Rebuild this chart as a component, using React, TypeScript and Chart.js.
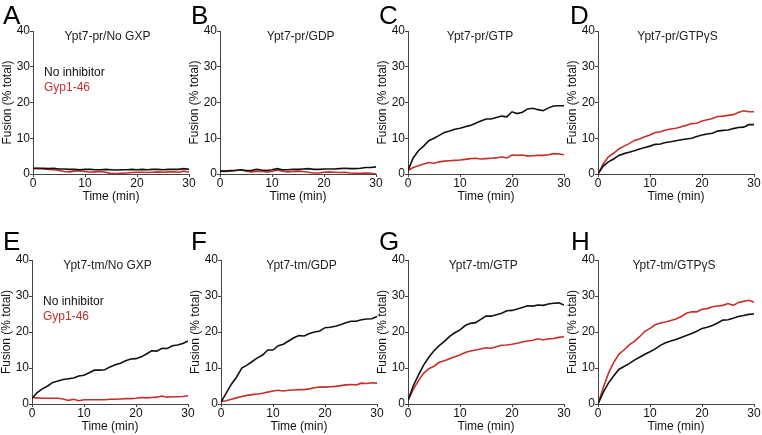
import React, { useEffect, useRef } from "react";
import { Chart, registerables } from "chart.js";

Chart.register(...registerables);

// ---------- data ----------
const time = [0, 1, 2, 3, 4, 5, 6, 7, 8, 9, 10, 11, 12, 13, 14, 15, 16, 17, 18, 19, 20, 21, 22, 23, 24, 25, 26, 27, 28, 29, 30];

const xTicks = [0, 10, 20, 30];
const yTicks = [0, 10, 20, 30, 40];

const seriesNames = ["No inhibitor", "Gyp1-46"];

const panelLetters = ["A", "B", "C", "D", "E", "F", "G", "H"];
const panelTitles = [
  "Ypt7-pr/No GXP",
  "Ypt7-pr/GDP",
  "Ypt7-pr/GTP",
  "Ypt7-pr/GTPγS",
  "Ypt7-tm/No GXP",
  "Ypt7-tm/GDP",
  "Ypt7-tm/GTP",
  "Ypt7-tm/GTPγS",
];

const aBlack = [1.6, 1.6, 1.6, 1.5, 1.6, 1.4, 1.4, 1.3, 1.3, 1.2, 1.3, 1.3, 1.2, 1.2, 1.3, 1.2, 1.1, 1.2, 1.2, 1.3, 1.2, 1.3, 1.2, 1.3, 1.3, 1.2, 1.3, 1.3, 1.3, 1.5, 1.3];
const aRed = [1.5, 1.5, 1.4, 1.3, 1.2, 1.0, 0.7, 0.6, 0.8, 0.9, 0.7, 0.5, 0.6, 0.7, 0.5, 0.1, 0.1, 0.2, 0.3, 0.4, 0.5, 0.5, 0.4, 0.5, 0.6, 0.5, 0.6, 0.6, 0.5, 0.8, 0.5];

const bBlack = [0.8, 0.8, 1.0, 1.0, 1.2, 1.0, 1.0, 1.3, 1.1, 1.0, 1.2, 1.5, 1.2, 1.2, 1.3, 1.3, 1.4, 1.5, 1.3, 1.3, 1.4, 1.4, 1.4, 1.5, 1.6, 1.5, 1.5, 1.6, 1.8, 1.8, 2.0];
const bRed = [0.8, 0.7, 0.8, 1.0, 1.2, 0.8, 0.6, 0.7, 0.7, 0.6, 0.7, 1.1, 0.8, 0.6, 0.7, 0.8, 0.7, 0.5, 0.3, 0.3, 0.5, 0.6, 0.5, 0.4, 0.5, 0.3, 0.2, 0.2, 0.3, 0.2, 0.0];

const cBlack = [1.0, 4.5, 6.5, 7.8, 9.3, 10.0, 10.8, 11.6, 12.0, 12.5, 12.8, 13.2, 13.6, 14.2, 14.8, 15.4, 15.4, 15.8, 16.2, 16.0, 17.4, 16.9, 17.3, 18.2, 18.4, 18.0, 17.7, 18.5, 19.0, 19.1, 19.1];
const cRed = [1.0, 1.8, 2.3, 2.8, 3.2, 3.0, 3.4, 3.6, 3.7, 3.8, 3.9, 4.1, 4.3, 4.4, 4.2, 4.3, 4.4, 4.5, 4.8, 4.5, 5.3, 5.2, 5.3, 5.0, 5.1, 5.2, 5.2, 5.4, 5.7, 5.6, 5.4];

const dBlack = [0.0, 2.2, 3.4, 4.2, 5.2, 5.7, 6.1, 6.5, 7.0, 7.4, 7.8, 8.3, 8.4, 8.8, 9.0, 9.3, 9.6, 9.8, 10.0, 10.5, 10.9, 11.2, 11.4, 12.0, 12.2, 12.3, 12.7, 13.0, 13.1, 13.8, 13.8];
const dRed = [0.0, 2.8, 4.8, 5.8, 7.0, 7.8, 8.5, 9.4, 9.8, 10.4, 10.9, 11.6, 11.8, 12.3, 12.6, 12.8, 13.2, 13.6, 14.1, 14.2, 14.8, 15.2, 15.5, 16.1, 16.2, 16.4, 16.6, 17.2, 17.7, 17.4, 17.4];

const eBlack = [1.5, 3.2, 4.2, 5.0, 6.0, 6.4, 6.8, 7.0, 7.2, 7.8, 8.0, 8.7, 9.4, 9.4, 9.5, 10.3, 10.9, 11.3, 12.0, 12.5, 12.6, 13.1, 13.9, 14.8, 14.7, 15.5, 15.4, 16.2, 16.4, 16.8, 17.5];
const eRed = [1.8, 1.7, 1.6, 1.6, 1.6, 1.6, 1.4, 1.0, 1.3, 0.9, 1.2, 1.2, 1.2, 1.2, 1.2, 1.3, 1.3, 1.4, 1.5, 1.5, 1.6, 1.8, 1.7, 1.8, 1.9, 2.2, 1.9, 2.0, 2.0, 2.1, 2.3];

const fBlack = [0.5, 3.0, 5.5, 7.5, 10.0, 10.8, 11.8, 12.8, 13.6, 15.0, 15.0, 16.2, 16.6, 17.5, 18.4, 19.0, 18.9, 19.6, 20.0, 20.3, 21.2, 21.3, 21.6, 22.0, 22.6, 23.0, 23.0, 23.4, 23.6, 23.7, 24.3];
const fRed = [0.7, 0.9, 1.3, 1.7, 2.1, 2.4, 2.6, 2.8, 3.0, 3.3, 3.6, 3.8, 3.6, 3.8, 3.9, 4.0, 4.0, 4.2, 4.5, 4.7, 4.7, 4.8, 4.9, 5.1, 5.3, 5.4, 5.3, 5.8, 5.7, 5.9, 5.8];

const gBlack = [1.0, 5.0, 8.0, 10.8, 13.0, 14.8, 16.2, 17.4, 18.8, 19.8, 20.6, 21.8, 22.4, 22.6, 23.5, 24.4, 24.4, 24.8, 25.2, 25.9, 26.0, 26.4, 26.8, 27.3, 27.2, 27.5, 27.4, 27.8, 28.0, 28.1, 27.5];
const gRed = [1.0, 4.0, 6.5, 8.5, 9.8, 10.5, 11.6, 12.0, 12.6, 13.1, 13.6, 14.3, 14.7, 15.0, 15.3, 15.6, 15.5, 15.9, 16.3, 16.4, 16.6, 16.9, 17.2, 17.5, 17.7, 18.1, 17.8, 18.1, 18.2, 18.5, 18.7];

const hBlack = [0.0, 3.2, 5.8, 7.8, 9.6, 10.4, 11.2, 12.2, 13.0, 13.8, 14.5, 15.3, 16.3, 17.0, 17.5, 17.9, 18.5, 19.0, 19.6, 20.2, 21.0, 21.3, 21.8, 22.5, 23.3, 23.4, 23.8, 24.3, 24.6, 24.9, 25.0];
const hRed = [0.0, 4.5, 8.5, 11.5, 13.8, 15.0, 16.4, 17.4, 18.7, 20.2, 21.0, 22.0, 22.5, 22.8, 23.2, 23.6, 24.3, 25.2, 25.6, 25.6, 26.3, 26.5, 27.0, 27.2, 27.4, 27.9, 27.4, 28.2, 28.5, 28.8, 28.3];

const blackSeries = [aBlack, bBlack, cBlack, dBlack, eBlack, fBlack, gBlack, hBlack];
const redSeries = [aRed, bRed, cRed, dRed, eRed, fRed, gRed, hRed];
const showLegend = [true, false, false, false, true, false, false, false];

// ---------- layout / style ----------
const FONT = '"Liberation Sans", Arial, Helvetica, sans-serif';
const BLACK = "#111111";
const RED = "#c4302b";
const AXIS = "#444444";

const Y_AXIS_W = 33;
const PAD_TOP = 31;
const PAD_RIGHT = 10;
const PAD_BOTTOM = 6;
const X_AXIS_H = 30;
const PLOT_W = 156;

const plotLefts = [33, 220, 408, 598, 32, 221, 408, 598];
const plotTops = [31, 31, 31, 31, 260, 260, 260, 260];
const plotHeights = [143, 143, 143, 143, 144, 144, 144, 144];
const titleDx = [-3.5, 2.7, -6, 1.5, -2.5, 2.5, -2.7, -2];
const letterPos = [
  [3, 5], [191, 5], [379, 5], [570, 5],
  [3, 231], [191, 231], [379, 231], [571, 231],
];

const textPlugin = {
  id: "panelText",
  afterDraw(chart: any, _args: any, opts: any) {
    const { ctx, chartArea } = chart;
    ctx.save();
    ctx.font = `12px ${FONT}`;
    ctx.fillStyle = "#222222";
    ctx.textAlign = "center";
    ctx.textBaseline = "alphabetic";
    ctx.fillText(opts.title, (chartArea.left + chartArea.right) / 2 + opts.titleDx, chartArea.top + 9);
    if (opts.legend) {
      ctx.textAlign = "left";
      ctx.fillStyle = "#111111";
      ctx.fillText(seriesNames[0], chartArea.left + 11, chartArea.top + 44.5);
      ctx.fillStyle = RED;
      ctx.fillText(seriesNames[1], chartArea.left + 11, chartArea.top + 60);
    }
    ctx.restore();
  },
};

function Panel({ index }: { index: number }) {
  const ref = useRef<HTMLCanvasElement | null>(null);
  const width = Y_AXIS_W + PLOT_W + PAD_RIGHT;
  const height = PAD_TOP + plotHeights[index] + X_AXIS_H + PAD_BOTTOM;
  const left = plotLefts[index] - Y_AXIS_W;
  const top = plotTops[index] - PAD_TOP;

  useEffect(() => {
    if (!ref.current) return;
    const mk = (vals: number[]) => time.map((t, i) => ({ x: t, y: vals[i] }));
    const chart = new Chart(ref.current, {
      type: "line",
      data: {
        datasets: [
          {
            label: seriesNames[0],
            data: mk(blackSeries[index]),
            borderColor: BLACK,
            borderWidth: 1.6,
            pointRadius: 0,
            tension: 0,
            fill: false,
          },
          {
            label: seriesNames[1],
            data: mk(redSeries[index]),
            borderColor: RED,
            borderWidth: 1.6,
            pointRadius: 0,
            tension: 0,
            fill: false,
          },
        ],
      },
      options: {
        animation: false,
        responsive: false,
        maintainAspectRatio: false,
        devicePixelRatio: 1,
        layout: { padding: { top: PAD_TOP, right: PAD_RIGHT, bottom: PAD_BOTTOM, left: 0 } },
        plugins: {
          legend: { display: false },
          tooltip: { enabled: false },
          title: { display: false },
          panelText: { title: panelTitles[index], titleDx: titleDx[index], legend: showLegend[index] },
        } as any,
        scales: {
          x: {
            type: "linear",
            min: 0,
            max: 30,
            afterFit: (s: any) => {
              s.height = X_AXIS_H;
            },
            afterBuildTicks: (s: any) => {
              s.ticks = xTicks.map((v) => ({ value: v }));
            },
            ticks: {
              font: { family: FONT, size: 12 },
              color: "#111111",
              padding: -1,
              maxRotation: 0,
              autoSkip: false,
            },
            grid: { display: true, drawOnChartArea: false, drawTicks: true, tickLength: 3, color: AXIS, lineWidth: 1 },
            border: { display: true, color: AXIS, width: 1 },
            title: {
              display: true,
              text: "Time (min)",
              font: { family: FONT, size: 12 },
              color: "#111111",
              padding: 0,
            },
          },
          y: {
            type: "linear",
            min: 0,
            max: 40,
            afterFit: (s: any) => {
              s.width = Y_AXIS_W;
            },
            afterBuildTicks: (s: any) => {
              s.ticks = yTicks.map((v) => ({ value: v }));
            },
            ticks: {
              font: { family: FONT, size: 12 },
              color: "#111111",
              padding: 0,
              autoSkip: false,
            },
            grid: { display: true, drawOnChartArea: false, drawTicks: true, tickLength: 3, color: AXIS, lineWidth: 1 },
            border: { display: true, color: AXIS, width: 1 },
            title: {
              display: true,
              text: "Fusion (% total)",
              font: { family: FONT, size: 12 },
              color: "#111111",
              padding: 0,
            },
          },
        },
      },
      plugins: [textPlugin as any],
    });
    return () => chart.destroy();
  }, [index]);

  return (
    <div style={{ position: "absolute", left, top, width, height }}>
      <canvas ref={ref} width={width} height={height} style={{ width, height, display: "block" }} />
    </div>
  );
}

export default function App() {
  return (
    <div
      style={{
        position: "absolute",
        left: 0,
        top: 0,
        width: 762,
        height: 435,
        background: "#ffffff",
        overflow: "hidden",
        fontFamily: FONT,
      }}
    >
      {panelLetters.map((_, i) => (
        <Panel key={"p" + i} index={i} />
      ))}
      {panelLetters.map((l, i) => (
        <div
          key={"l" + i}
          style={{
            position: "absolute",
            left: letterPos[i][0],
            top: letterPos[i][1] - 3,
            fontSize: 26,
            lineHeight: "26px",
            fontFamily: FONT,
            color: "#000000",
          }}
        >
          {l}
        </div>
      ))}
    </div>
  );
}
